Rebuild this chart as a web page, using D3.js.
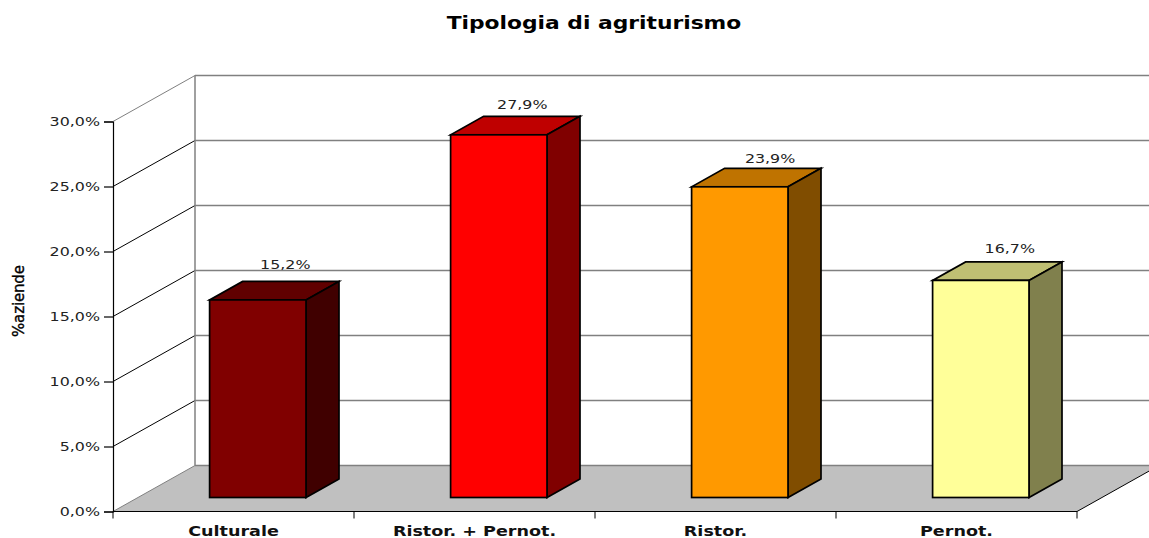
<!DOCTYPE html>
<html><head><meta charset="utf-8">
<script src="https://cdnjs.cloudflare.com/ajax/libs/d3/7.8.5/d3.min.js"></script>
<style>html,body{margin:0;padding:0;background:#fff}svg{display:block}text{font-family:"DejaVu Sans",Verdana,sans-serif}</style>
</head><body><svg id="c" width="1149" height="538"></svg>
<script>
const categories = ["Culturale", "Ristor. + Pernot.", "Ristor.", "Pernot."];
const values = [15.2, 27.9, 23.9, 16.7];
const valueLabels = ["15,2%", "27,9%", "23,9%", "16,7%"];
const yTicks = [0, 5, 10, 15, 20, 25, 30];
const frontColors = ["#800000", "#FF0000", "#FF9900", "#FFFF99"];
const topColors = ["#600000", "#BF0000", "#BF7300", "#BFBF73"];
const sideColors = ["#400000", "#800000", "#804D00", "#80804D"];
const labelGaps = [36, 31, 29, 32];
const labelShifts = [27.5, 23.5, 30.3, 29];

const svg = d3.select("#c");
const x = d3.scaleBand().domain(categories).range([113, 1077]).paddingInner(0).paddingOuter(0);
const y = d3.scaleLinear().domain([0, 30]).range([511.5, 121.5]);
const depth = {dx: 82, dy: -46};
const barW = x.bandwidth() * 0.4;
const barBase = {dx: 24.3, dy: -14};
const barDepth = {dx: 33, dy: -18.5};
const line = (a, b, c, w) => svg.append("line").attr("x1", a[0]).attr("y1", a[1]).attr("x2", b[0]).attr("y2", b[1]).attr("stroke", c).attr("stroke-width", w);
// the reference text is stretched sideways: keep glyph height, widen the run
const stretch = (sel, k) => sel.each(function () {
  const t = d3.select(this);
  t.attr("textLength", this.getComputedTextLength() * k).attr("lengthAdjust", "spacingAndGlyphs");
});

// floor
svg.append("path").attr("fill", "#C0C0C0").attr("d", d3.line()([
  [x.range()[0], y(0)], [x.range()[1], y(0)],
  [x.range()[1] + depth.dx, y(0) + depth.dy], [x.range()[0] + depth.dx, y(0) + depth.dy]
]) + "Z");

// walls
yTicks.forEach(t => {
  const yb = y(t) + depth.dy, bx = x.range()[0] + depth.dx;
  line([bx, yb], [x.range()[1] + depth.dx, yb], "#808080", 1.5);
  line([x.range()[0], y(t)], [bx, yb], t === 30 || t === 0 ? "#808080" : "#000", 1);
});
line([x.range()[0] + depth.dx, y(0) + depth.dy], [x.range()[0] + depth.dx, y(30) + depth.dy], "#808080", 1.5);
line([x.range()[1], y(0)], [x.range()[1] + depth.dx, y(0) + depth.dy], "#000", 1);

// bars
const bars = svg.selectAll("g.bar").data(categories).join("g").attr("class", "bar").attr("stroke", "#000").attr("stroke-width", 1.7).attr("stroke-linejoin", "miter");
bars.each(function (c, i) {
  const g = d3.select(this);
  const x0 = x(c) + (x.bandwidth() - barW) / 2 + barBase.dx, x1 = x0 + barW;
  const yb = y(0) + barBase.dy, yt = y(values[i]) + barBase.dy;
  const p = d3.line();
  g.append("path").attr("fill", topColors[i]).attr("d", p([[x0, yt], [x1, yt], [x1 + barDepth.dx, yt + barDepth.dy], [x0 + barDepth.dx, yt + barDepth.dy]]) + "Z");
  g.append("path").attr("fill", sideColors[i]).attr("d", p([[x1, yt], [x1 + barDepth.dx, yt + barDepth.dy], [x1 + barDepth.dx, yb + barDepth.dy], [x1, yb]]) + "Z");
  g.append("rect").attr("fill", frontColors[i]).attr("x", x0).attr("y", yt).attr("width", barW).attr("height", yb - yt);
  svg.append("text").attr("class", "val").attr("x", (x0 + x1) / 2 + labelShifts[i]).attr("y", yt - labelGaps[i] + 5).attr("text-anchor", "middle").attr("font-size", 13).attr("fill", "#222").text(valueLabels[i]);
});
stretch(svg.selectAll("text.val"), 1.22);

// axes
const yAxis = d3.axisLeft(y).tickValues(yTicks).tickSize(9).tickPadding(4).tickFormat(d => d.toFixed(1).replace(".", ",") + "%");
const gy = svg.append("g").attr("transform", "translate(113,0)").call(yAxis);
const xAxis = d3.axisBottom(x).tickValues([]).tickSize(0);
const gx = svg.append("g").attr("transform", "translate(0,511.5)").call(xAxis);
[gy, gx].forEach(g => { g.selectAll("path,line").attr("stroke", "#000").attr("stroke-width", 1.2); });
gy.selectAll("text").attr("font-size", 13).attr("fill", "#222").style("font-family", '"DejaVu Sans"');
stretch(gy.selectAll("text"), 1.22);
gx.select(".domain").attr("d", `M${x.range()[0]},0H${x.range()[1]}`);
const bottomEdges = categories.map(c => x(c)).concat(x.range()[1]);
gx.selectAll("line.edge").data(bottomEdges).join("line").attr("class", "edge").attr("x1", d => d).attr("x2", d => d).attr("y1", 0).attr("y2", 7).attr("stroke", "#000").attr("stroke-width", 1);
const cats = svg.selectAll("text.cat").data(categories).join("text").attr("class", "cat").attr("x", d => x(d) + x.bandwidth() / 2).attr("y", 536).attr("text-anchor", "middle").attr("font-size", 13.5).attr("font-weight", "bold").attr("fill", "#111").text(d => d);
stretch(cats, 1.3);

// titles
const title = svg.append("text").attr("x", 594).attr("y", 29).attr("text-anchor", "middle").attr("font-size", 17.5).attr("font-weight", "bold").attr("fill", "#000").text("Tipologia di agriturismo");
stretch(title, 1.245);
svg.append("text").attr("transform", "translate(24,301) rotate(-90)").attr("text-anchor", "middle").attr("font-size", 15).attr("textLength", 72).attr("lengthAdjust", "spacing").attr("fill", "#000").attr("stroke", "#000").attr("stroke-width", 0.35).text("%aziende");
</script></body></html>
